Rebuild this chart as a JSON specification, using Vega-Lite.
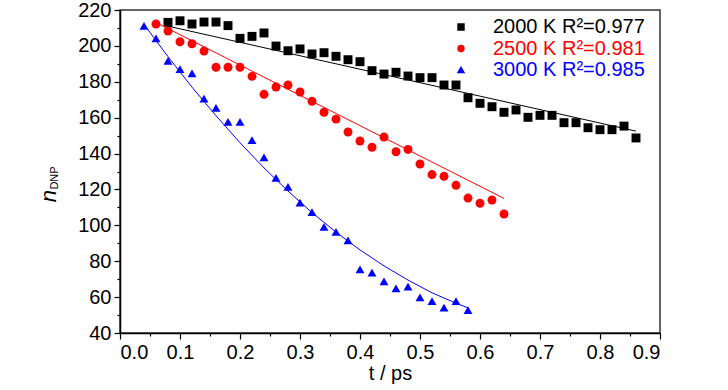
{
  "$schema": "https://vega.github.io/schema/vega-lite/v6.json",
  "width": 540,
  "height": 323,
  "autosize": {"type": "none"},
  "padding": {"left": 120, "top": 10, "right": 68, "bottom": 57},
  "background": "white",
  "config": {
    "font": "Liberation Sans",
    "view": {"stroke": "#333333", "strokeWidth": 1.5},
    "axis": {
      "grid": false,
      "domainColor": "#000000",
      "domainWidth": 1.5,
      "tickColor": "#000000",
      "tickWidth": 1.2,
      "labelColor": "#000000",
      "labelFont": "Liberation Sans",
      "labelFontSize": 20,
      "titleColor": "#000000",
      "titleFontWeight": "normal"
    }
  },
  "datasets": {
    "points": [
      {"t": 0.08, "n": 213.1, "series": "2000 K"},
      {"t": 0.10, "n": 214.0, "series": "2000 K"},
      {"t": 0.12, "n": 212.2, "series": "2000 K"},
      {"t": 0.14, "n": 213.3, "series": "2000 K"},
      {"t": 0.16, "n": 213.3, "series": "2000 K"},
      {"t": 0.18, "n": 211.3, "series": "2000 K"},
      {"t": 0.20, "n": 204.2, "series": "2000 K"},
      {"t": 0.22, "n": 205.3, "series": "2000 K"},
      {"t": 0.24, "n": 207.2, "series": "2000 K"},
      {"t": 0.26, "n": 199.9, "series": "2000 K"},
      {"t": 0.28, "n": 197.3, "series": "2000 K"},
      {"t": 0.30, "n": 198.3, "series": "2000 K"},
      {"t": 0.32, "n": 195.5, "series": "2000 K"},
      {"t": 0.34, "n": 196.2, "series": "2000 K"},
      {"t": 0.36, "n": 194.2, "series": "2000 K"},
      {"t": 0.38, "n": 192.3, "series": "2000 K"},
      {"t": 0.40, "n": 191.2, "series": "2000 K"},
      {"t": 0.42, "n": 186.2, "series": "2000 K"},
      {"t": 0.44, "n": 184.3, "series": "2000 K"},
      {"t": 0.46, "n": 185.3, "series": "2000 K"},
      {"t": 0.48, "n": 183.2, "series": "2000 K"},
      {"t": 0.50, "n": 182.3, "series": "2000 K"},
      {"t": 0.52, "n": 182.3, "series": "2000 K"},
      {"t": 0.54, "n": 178.2, "series": "2000 K"},
      {"t": 0.56, "n": 178.2, "series": "2000 K"},
      {"t": 0.58, "n": 171.1, "series": "2000 K"},
      {"t": 0.60, "n": 168.0, "series": "2000 K"},
      {"t": 0.62, "n": 166.1, "series": "2000 K"},
      {"t": 0.64, "n": 163.0, "series": "2000 K"},
      {"t": 0.66, "n": 164.3, "series": "2000 K"},
      {"t": 0.68, "n": 160.2, "series": "2000 K"},
      {"t": 0.70, "n": 161.3, "series": "2000 K"},
      {"t": 0.72, "n": 161.3, "series": "2000 K"},
      {"t": 0.74, "n": 157.2, "series": "2000 K"},
      {"t": 0.76, "n": 157.2, "series": "2000 K"},
      {"t": 0.78, "n": 154.4, "series": "2000 K"},
      {"t": 0.80, "n": 153.3, "series": "2000 K"},
      {"t": 0.82, "n": 153.3, "series": "2000 K"},
      {"t": 0.84, "n": 155.3, "series": "2000 K"},
      {"t": 0.86, "n": 148.7, "series": "2000 K"},
      {"t": 0.06, "n": 212.2, "series": "2500 K"},
      {"t": 0.08, "n": 208.3, "series": "2500 K"},
      {"t": 0.10, "n": 202.3, "series": "2500 K"},
      {"t": 0.12, "n": 201.2, "series": "2500 K"},
      {"t": 0.14, "n": 197.1, "series": "2500 K"},
      {"t": 0.16, "n": 188.1, "series": "2500 K"},
      {"t": 0.18, "n": 188.1, "series": "2500 K"},
      {"t": 0.20, "n": 188.1, "series": "2500 K"},
      {"t": 0.22, "n": 183.0, "series": "2500 K"},
      {"t": 0.24, "n": 173.0, "series": "2500 K"},
      {"t": 0.26, "n": 177.1, "series": "2500 K"},
      {"t": 0.28, "n": 178.2, "series": "2500 K"},
      {"t": 0.30, "n": 174.3, "series": "2500 K"},
      {"t": 0.32, "n": 169.1, "series": "2500 K"},
      {"t": 0.34, "n": 163.0, "series": "2500 K"},
      {"t": 0.36, "n": 159.2, "series": "2500 K"},
      {"t": 0.38, "n": 152.0, "series": "2500 K"},
      {"t": 0.40, "n": 147.0, "series": "2500 K"},
      {"t": 0.42, "n": 143.5, "series": "2500 K"},
      {"t": 0.44, "n": 149.2, "series": "2500 K"},
      {"t": 0.46, "n": 141.0, "series": "2500 K"},
      {"t": 0.48, "n": 142.3, "series": "2500 K"},
      {"t": 0.50, "n": 134.2, "series": "2500 K"},
      {"t": 0.52, "n": 128.3, "series": "2500 K"},
      {"t": 0.54, "n": 127.3, "series": "2500 K"},
      {"t": 0.56, "n": 122.3, "series": "2500 K"},
      {"t": 0.58, "n": 115.2, "series": "2500 K"},
      {"t": 0.60, "n": 112.3, "series": "2500 K"},
      {"t": 0.62, "n": 114.1, "series": "2500 K"},
      {"t": 0.64, "n": 106.3, "series": "2500 K"},
      {"t": 0.04, "n": 211.1, "series": "3000 K"},
      {"t": 0.06, "n": 204.2, "series": "3000 K"},
      {"t": 0.08, "n": 191.6, "series": "3000 K"},
      {"t": 0.10, "n": 187.1, "series": "3000 K"},
      {"t": 0.12, "n": 184.7, "series": "3000 K"},
      {"t": 0.14, "n": 170.6, "series": "3000 K"},
      {"t": 0.16, "n": 165.5, "series": "3000 K"},
      {"t": 0.18, "n": 157.6, "series": "3000 K"},
      {"t": 0.20, "n": 157.6, "series": "3000 K"},
      {"t": 0.22, "n": 147.5, "series": "3000 K"},
      {"t": 0.24, "n": 137.9, "series": "3000 K"},
      {"t": 0.26, "n": 126.5, "series": "3000 K"},
      {"t": 0.28, "n": 121.5, "series": "3000 K"},
      {"t": 0.30, "n": 112.6, "series": "3000 K"},
      {"t": 0.32, "n": 107.4, "series": "3000 K"},
      {"t": 0.34, "n": 99.2, "series": "3000 K"},
      {"t": 0.36, "n": 96.4, "series": "3000 K"},
      {"t": 0.38, "n": 91.6, "series": "3000 K"},
      {"t": 0.40, "n": 75.5, "series": "3000 K"},
      {"t": 0.42, "n": 73.6, "series": "3000 K"},
      {"t": 0.44, "n": 68.8, "series": "3000 K"},
      {"t": 0.46, "n": 64.9, "series": "3000 K"},
      {"t": 0.48, "n": 65.8, "series": "3000 K"},
      {"t": 0.50, "n": 59.9, "series": "3000 K"},
      {"t": 0.52, "n": 57.8, "series": "3000 K"},
      {"t": 0.54, "n": 54.1, "series": "3000 K"},
      {"t": 0.56, "n": 57.8, "series": "3000 K"},
      {"t": 0.58, "n": 52.8, "series": "3000 K"}
    ],
    "fits": [
      {"t": 0.08, "n": 211.0, "series": "2000 K"},
      {"t": 0.86, "n": 152.5, "series": "2000 K"},
      {"t": 0.06, "n": 213.0, "series": "2500 K"},
      {"t": 0.64, "n": 115.0, "series": "2500 K"},
      {"t": 0.04, "n": 212.0, "series": "3000 K"},
      {"t": 0.08, "n": 194.0, "series": "3000 K"},
      {"t": 0.12, "n": 177.0, "series": "3000 K"},
      {"t": 0.16, "n": 161.1, "series": "3000 K"},
      {"t": 0.20, "n": 146.0, "series": "3000 K"},
      {"t": 0.24, "n": 132.0, "series": "3000 K"},
      {"t": 0.28, "n": 119.1, "series": "3000 K"},
      {"t": 0.32, "n": 107.1, "series": "3000 K"},
      {"t": 0.36, "n": 96.2, "series": "3000 K"},
      {"t": 0.40, "n": 86.3, "series": "3000 K"},
      {"t": 0.44, "n": 77.4, "series": "3000 K"},
      {"t": 0.48, "n": 69.5, "series": "3000 K"},
      {"t": 0.52, "n": 62.4, "series": "3000 K"},
      {"t": 0.56, "n": 56.6, "series": "3000 K"},
      {"t": 0.58, "n": 54.0, "series": "3000 K"}
    ]
  },
  "layer": [
    {
      "data": {"name": "points"},
      "mark": {"type": "point", "filled": true, "opacity": 1, "size": 80},
      "encoding": {
        "x": {
          "field": "t", "type": "quantitative",
          "scale": {"domain": [0, 0.9], "nice": false, "zero": false},
          "axis": {"orient": "bottom", "values": [0, 0.1, 0.2, 0.3, 0.4, 0.5, 0.6, 0.7, 0.8, 0.9], "format": ".1f", "tickSize": 6, "labelPadding": 3,
            "title": "t / ps", "titleFont": "Liberation Sans", "titleFontSize": 20, "titlePadding": 1}
        },
        "y": {
          "field": "n", "type": "quantitative",
          "scale": {"domain": [40, 220], "nice": false, "zero": false},
          "axis": {"orient": "left", "values": [40, 60, 80, 100, 120, 140, 160, 180, 200, 220], "tickSize": 6, "labelPadding": 3,
            "title": "n", "titleFont": "Liberation Sans", "titleFontStyle": "italic", "titleFontSize": 22, "titleAngle": 270, "titleAlign": "center", "titleBaseline": "alphabetic", "titleX": -65, "titleY": 185.5}
        },
        "color": {
          "field": "series", "type": "nominal",
          "scale": {"domain": ["2000 K", "2500 K", "3000 K"], "range": ["#000000", "#ff0000", "#0000ff"]},
          "legend": {
            "orient": "none", "legendX": 331, "legendY": 7, "title": null, "padding": 0,
            "symbolSize": 35, "labelFontSize": 20, "labelFont": "Liberation Sans", "labelOffset": 22, "rowPadding": 1.5, "labelLimit": 300,
            "labelExpr": "datum.label == '2000 K' ? '2000 K R²=0.977' : datum.label == '2500 K' ? '2500 K R²=0.981' : '3000 K R²=0.985'",
            "labelColor": {"expr": "(datum.value == '2500 K' || datum.label == '2500 K') ? '#ff0000' : (datum.value == '3000 K' || datum.label == '3000 K') ? '#0000ff' : '#000000'"}
          }
        },
        "shape": {
          "field": "series", "type": "nominal",
          "scale": {"domain": ["2000 K", "2500 K", "3000 K"], "range": ["square", "circle", "triangle-up"]},
          "legend": {
            "orient": "none", "legendX": 331, "legendY": 7, "title": null, "padding": 0,
            "symbolSize": 35, "labelFontSize": 20, "labelFont": "Liberation Sans", "labelOffset": 22, "rowPadding": 1.5, "labelLimit": 300,
            "labelExpr": "datum.label == '2000 K' ? '2000 K R²=0.977' : datum.label == '2500 K' ? '2500 K R²=0.981' : '3000 K R²=0.985'",
            "labelColor": {"expr": "(datum.value == '2500 K' || datum.label == '2500 K') ? '#ff0000' : (datum.value == '3000 K' || datum.label == '3000 K') ? '#0000ff' : '#000000'"}
          }
        }
      }
    },
    {
      "data": {"name": "fits"},
      "mark": {"type": "line", "strokeWidth": 1, "clip": true},
      "encoding": {
        "x": {
          "field": "t", "type": "quantitative",
          "axis": {"orient": "bottom", "values": [0.05, 0.15, 0.25, 0.35, 0.45, 0.55, 0.65, 0.75, 0.85], "labels": false, "domain": false, "tickSize": 3, "title": null}
        },
        "y": {
          "field": "n", "type": "quantitative",
          "axis": {"orient": "left", "values": [50, 70, 90, 110, 130, 150, 170, 190, 210], "labels": false, "domain": false, "tickSize": 3,
            "title": "DNP", "titleFont": "Liberation Sans", "titleFontSize": 11, "titleAngle": 270, "titleAlign": "center", "titleBaseline": "alphabetic", "titleX": -63, "titleY": 167.5}
        },
        "detail": {"field": "series"},
        "stroke": {
          "field": "series", "type": "nominal",
          "scale": {"domain": ["2000 K", "2500 K", "3000 K"], "range": ["#000000", "#ff0000", "#0000ff"]},
          "legend": null
        }
      }
    }
  ],
  "resolve": {"axis": {"x": "independent", "y": "independent"}}
}
